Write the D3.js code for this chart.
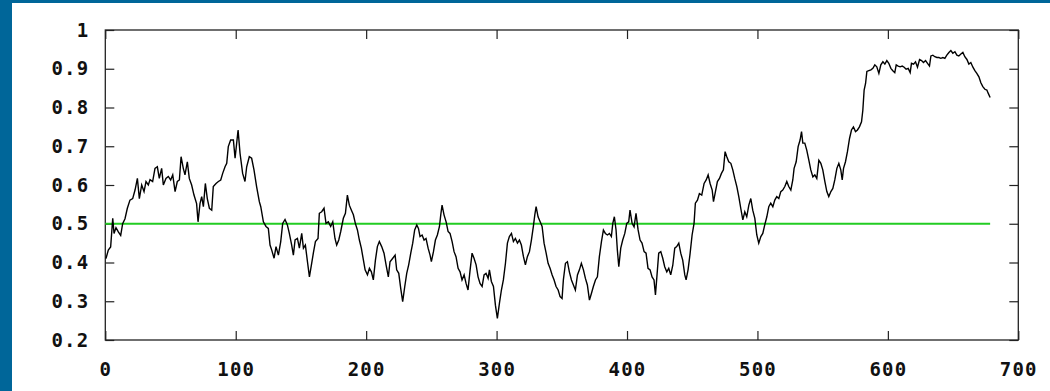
<!DOCTYPE html>
<html>
<head>
<meta charset="utf-8">
<script src="https://cdn.jsdelivr.net/npm/d3@7"></script>
<style>
html,body{margin:0;padding:0;background:#fff;}
svg{display:block;}
.tick text{font-family:"DejaVu Sans Mono",monospace;font-weight:bold;font-size:19px;letter-spacing:1.2px;fill:#111;}
</style>
</head>
<body>
<svg id="chart" width="1050" height="391"></svg>
<script>
const xTicks = [0,100,200,300,400,500,600,700];
const yTicks = [0.2,0.3,0.4,0.5,0.6,0.7,0.8,0.9,1];
const threshold = 0.5;

const xs = [0.5,2.3,4.1,5.7,6.7,8.2,10,11.8,13.3,15.1,16.9,18.9,21,22.8,24.6,26.1,27.9,29.7,31.2,33,34.3,36.3,38.1,39.9,41.4,43.2,44.5,46.5,48.3,50.1,51.7,53.5,55.2,56.8,58.1,59.8,61.1,62.9,64.4,66.2,68,70,71.1,72.6,73.9,75.2,76.7,78.2,79.8,81.6,82.8,84.9,86.7,88.5,90,91.8,93.1,94.3,96.1,98.2,99.5,100.7,101.8,103.3,105.3,107.1,108.4,110.4,112.2,114,116,118.1,
119.2,121.2,123.2,125,126.3,127.6,129.4,130.9,132.7,134.5,136,137.8,139.6,141.1,142.9,144.2,145.5,147.3,148.8,150.6,151.9,153.4,155,156.5,158,159.5,161.1,163.1,164.1,165.9,167.7,169.2,171,172.8,174.4,176.1,177.4,179,180.5,182.5,184.1,185.6,187.1,188.7,190.2,191.7,193.3,194.8,196.3,197.9,199.2,201,202.5,204,205.5,207.1,208.6,210.1,211.9,213.7,215.3,217,218.3,220.4,222.2,223.4,225,226.5,
228,229.6,231.1,232.6,234.2,235.7,237.2,238.8,240.1,241.3,242.9,244.4,245.9,247.5,249,250,251.6,253.1,254.6,256.2,257.2,258.2,259.7,261.3,262.8,264.3,265.9,267.4,268.9,270.5,272,273.5,275.1,276.6,278.1,279.7,281.2,282.7,284.3,285.8,287.3,288.9,290.4,291.9,293.5,294.5,296,297.6,299.1,300.6,302.2,303.7,305.2,306.8,308.3,309.8,311.4,312.9,314.4,316,317.5,319,320.6,322.1,323.6,325.2,326.7,328.2,329.3,330.3,331.8,333.4,334.9,336.4,338,339.5,341,342.6,344.1,345.6,347.2,348.7,
350.2,351.2,352.8,354.3,355.8,357.4,358.9,360.4,362,363.5,365,366.6,368.1,369.6,371.2,372.7,374.2,375.8,377.3,378.8,380.4,381.9,383.4,385,386.5,388,389.1,390.3,391.6,392.6,393.7,395.2,396.7,398.3,399.8,401.3,402.3,403.9,405.4,406.9,408.5,410,411.5,413.1,414.6,416.1,417.7,419.2,420.7,421.8,422.8,424.3,425.9,427.4,428.9,430.5,432,433.5,435.1,436.6,438.1,439.7,441.2,442.7,444.3,445.3,446.8,448.4,449.9,451.4,452.4,454,455.5,457.3,
459.1,460.7,462.2,463.7,465.3,466.3,467.8,469.3,470.9,472.4,473.9,475.2,476.5,478,479.6,481.1,482.6,484.2,485.7,487.2,488.8,490.3,491.8,493.4,494.9,496.4,498,499.5,501,502.6,504.1,505.6,507.2,508.7,510.2,511.8,513.3,514.8,516.4,517.9,519.4,521,522.5,524,525.6,527.1,528.1,529.7,531.2,532.7,533.8,534.8,536.3,537.8,539.4,540.9,542.5,544,545.5,547.1,548.6,550.1,551.7,553.2,554.7,556.3,557.8,559.3,560.9,562.4,563.9,565,566,567.5,569,570.6,572.1,573.6,575.2,576.7,578.2,
579.8,580.8,581.8,582.9,583.9,585.4,587,588.5,590,591.5,593.1,594.6,596.2,597.7,599.2,600.7,602.3,603.8,605.3,606.4,607.9,609.4,611,612.5,614,615.6,617.1,618.1,619.7,621.2,622.7,624.3,625.8,627.3,628.9,630.4,631.9,633,634.5,636,637.6,639.1,640.6,642.2,643.7,645.2,646.8,648.3,649.8,651.4,652.9,654.4,656,657.5,659,660.6,662.1,663.6,665.2,666.7,668.2,669.8,671.3,672.8,674.4,675.9,676.9,678.4];

const ys = [0.41,0.432,0.44,0.514,0.475,0.49,0.479,0.47,0.5,0.513,0.54,0.561,0.565,0.587,0.617,0.565,0.6,0.583,0.609,0.6,0.614,0.609,0.643,0.647,0.617,0.643,0.6,0.617,0.622,0.613,0.626,0.583,0.609,0.613,0.673,0.643,0.626,0.66,0.617,0.6,0.574,0.552,0.505,0.552,0.57,0.544,0.604,0.565,0.54,0.535,0.596,0.604,0.609,0.613,0.63,0.647,0.656,0.699,0.716,0.716,0.669,0.707,0.742,0.682,0.63,0.609,0.647,0.673,0.669,0.639,0.596,0.557,
0.544,0.505,0.493,0.488,0.445,0.432,0.411,0.441,0.419,0.454,0.501,0.511,0.497,0.475,0.445,0.419,0.458,0.462,0.437,0.475,0.437,0.445,0.402,0.363,0.393,0.424,0.454,0.462,0.527,0.531,0.54,0.501,0.505,0.493,0.505,0.462,0.445,0.458,0.48,0.514,0.527,0.574,0.548,0.535,0.523,0.501,0.484,0.458,0.437,0.406,0.381,0.368,0.385,0.376,0.355,0.406,0.441,0.454,0.441,0.424,0.393,0.363,0.402,0.411,0.419,0.381,0.372,0.333,
0.299,0.338,0.372,0.394,0.424,0.45,0.484,0.497,0.488,0.467,0.471,0.458,0.462,0.437,0.419,0.402,0.428,0.458,0.471,0.493,0.523,0.548,0.523,0.505,0.48,0.475,0.454,0.428,0.415,0.385,0.376,0.355,0.368,0.346,0.329,0.381,0.424,0.411,0.394,0.363,0.346,0.338,0.368,0.372,0.359,0.381,0.351,0.338,0.29,0.256,0.295,0.329,0.355,0.398,0.45,0.467,0.475,0.454,0.462,0.45,0.458,0.445,0.415,0.394,0.415,0.428,0.458,0.493,0.523,0.544,0.518,0.505,0.493,0.45,0.424,0.398,0.385,0.368,0.355,0.338,0.329,0.312,
0.307,0.355,0.398,0.402,0.376,0.355,0.342,0.329,0.368,0.381,0.398,0.381,0.359,0.342,0.303,0.32,0.338,0.355,0.363,0.415,0.454,0.484,0.475,0.471,0.475,0.467,0.501,0.518,0.484,0.432,0.389,0.437,0.458,0.475,0.501,0.505,0.535,0.501,0.492,0.527,0.484,0.458,0.45,0.428,0.424,0.385,0.381,0.363,0.355,0.316,0.359,0.424,0.428,0.411,0.389,0.376,0.385,0.368,0.393,0.437,0.441,0.45,0.424,0.406,0.368,0.355,0.381,0.424,0.471,0.501,0.553,0.561,0.578,0.574,
0.604,0.613,0.626,0.604,0.587,0.557,0.583,0.609,0.617,0.63,0.639,0.686,0.673,0.66,0.656,0.639,0.617,0.596,0.57,0.54,0.51,0.531,0.518,0.548,0.565,0.535,0.514,0.471,0.45,0.467,0.475,0.497,0.518,0.544,0.553,0.544,0.561,0.57,0.565,0.583,0.587,0.596,0.609,0.596,0.587,0.613,0.643,0.66,0.699,0.716,0.738,0.708,0.708,0.69,0.664,0.639,0.621,0.626,0.617,0.664,0.656,0.639,0.609,0.583,0.57,0.583,0.591,0.613,0.643,0.656,0.639,0.613,0.643,0.66,0.686,0.72,0.742,0.75,0.738,0.742,0.75,
0.763,0.793,0.845,0.862,0.893,0.895,0.897,0.901,0.91,0.905,0.888,0.91,0.918,0.912,0.921,0.914,0.901,0.895,0.89,0.91,0.907,0.905,0.907,0.904,0.899,0.901,0.89,0.914,0.912,0.918,0.904,0.924,0.921,0.916,0.921,0.914,0.907,0.933,0.935,0.931,0.929,0.929,0.927,0.929,0.927,0.935,0.942,0.947,0.94,0.944,0.935,0.933,0.938,0.942,0.931,0.924,0.912,0.916,0.904,0.895,0.888,0.879,0.864,0.854,0.847,0.845,0.837,0.826];

const W = 1050, H = 391;
const plot = {left:105.3, right:1018.3, top:30, bottom:340};
const svg = d3.select("#chart");

// page frame
svg.append("rect").attr("x",0).attr("y",0).attr("width",W).attr("height",3).attr("fill","#006699");
svg.append("rect").attr("x",0).attr("y",0).attr("width",12).attr("height",H).attr("fill","#006699");

const x = d3.scaleLinear().domain([0,700]).range([plot.left, plot.right]);
const y = d3.scaleLinear().domain([0.2,1]).range([plot.bottom, plot.top]);

const fmtY = d => (d === 1 ? "1" : d3.format(".1f")(d));

// axes with inward ticks
const gx = svg.append("g").attr("transform",`translate(0,${plot.bottom})`)
  .call(d3.axisBottom(x).tickValues(xTicks).tickSize(-9).tickPadding(23).tickFormat(d3.format("d")));
const gxt = svg.append("g").attr("transform",`translate(0,${plot.top})`)
  .call(d3.axisTop(x).tickValues(xTicks).tickSize(-9).tickFormat(""));
const gy = svg.append("g").attr("transform",`translate(${plot.left},0)`)
  .call(d3.axisLeft(y).tickValues(yTicks).tickSize(-9).tickPadding(16).tickFormat(fmtY));
const gyr = svg.append("g").attr("transform",`translate(${plot.right},0)`)
  .call(d3.axisRight(y).tickValues(yTicks).tickSize(-9).tickFormat(""));

[gx,gxt,gy,gyr].forEach(g=>{
  g.select(".domain").remove();
  g.selectAll(".tick line").attr("stroke","#222").attr("stroke-width",1.2);
});
gx.selectAll("text").attr("dy","0.71em");

svg.append("rect").attr("x",plot.left).attr("y",plot.top)
  .attr("width",plot.right-plot.left).attr("height",plot.bottom-plot.top)
  .attr("fill","none").attr("stroke","#222").attr("stroke-width",1.3);

// threshold line
svg.append("line")
  .attr("x1",x(0)).attr("x2",x(d3.max(xs)))
  .attr("y1",y(threshold)).attr("y2",y(threshold))
  .attr("stroke","#22cc22").attr("stroke-width",2);

// data line
const pts = xs.map((v,i)=>[v, ys[i]]);
svg.append("path").datum(pts)
  .attr("fill","none").attr("stroke","#000").attr("stroke-width",1.4)
  .attr("d", d3.line().x(d=>x(d[0])).y(d=>y(d[1])));
</script>
</body>
</html>
